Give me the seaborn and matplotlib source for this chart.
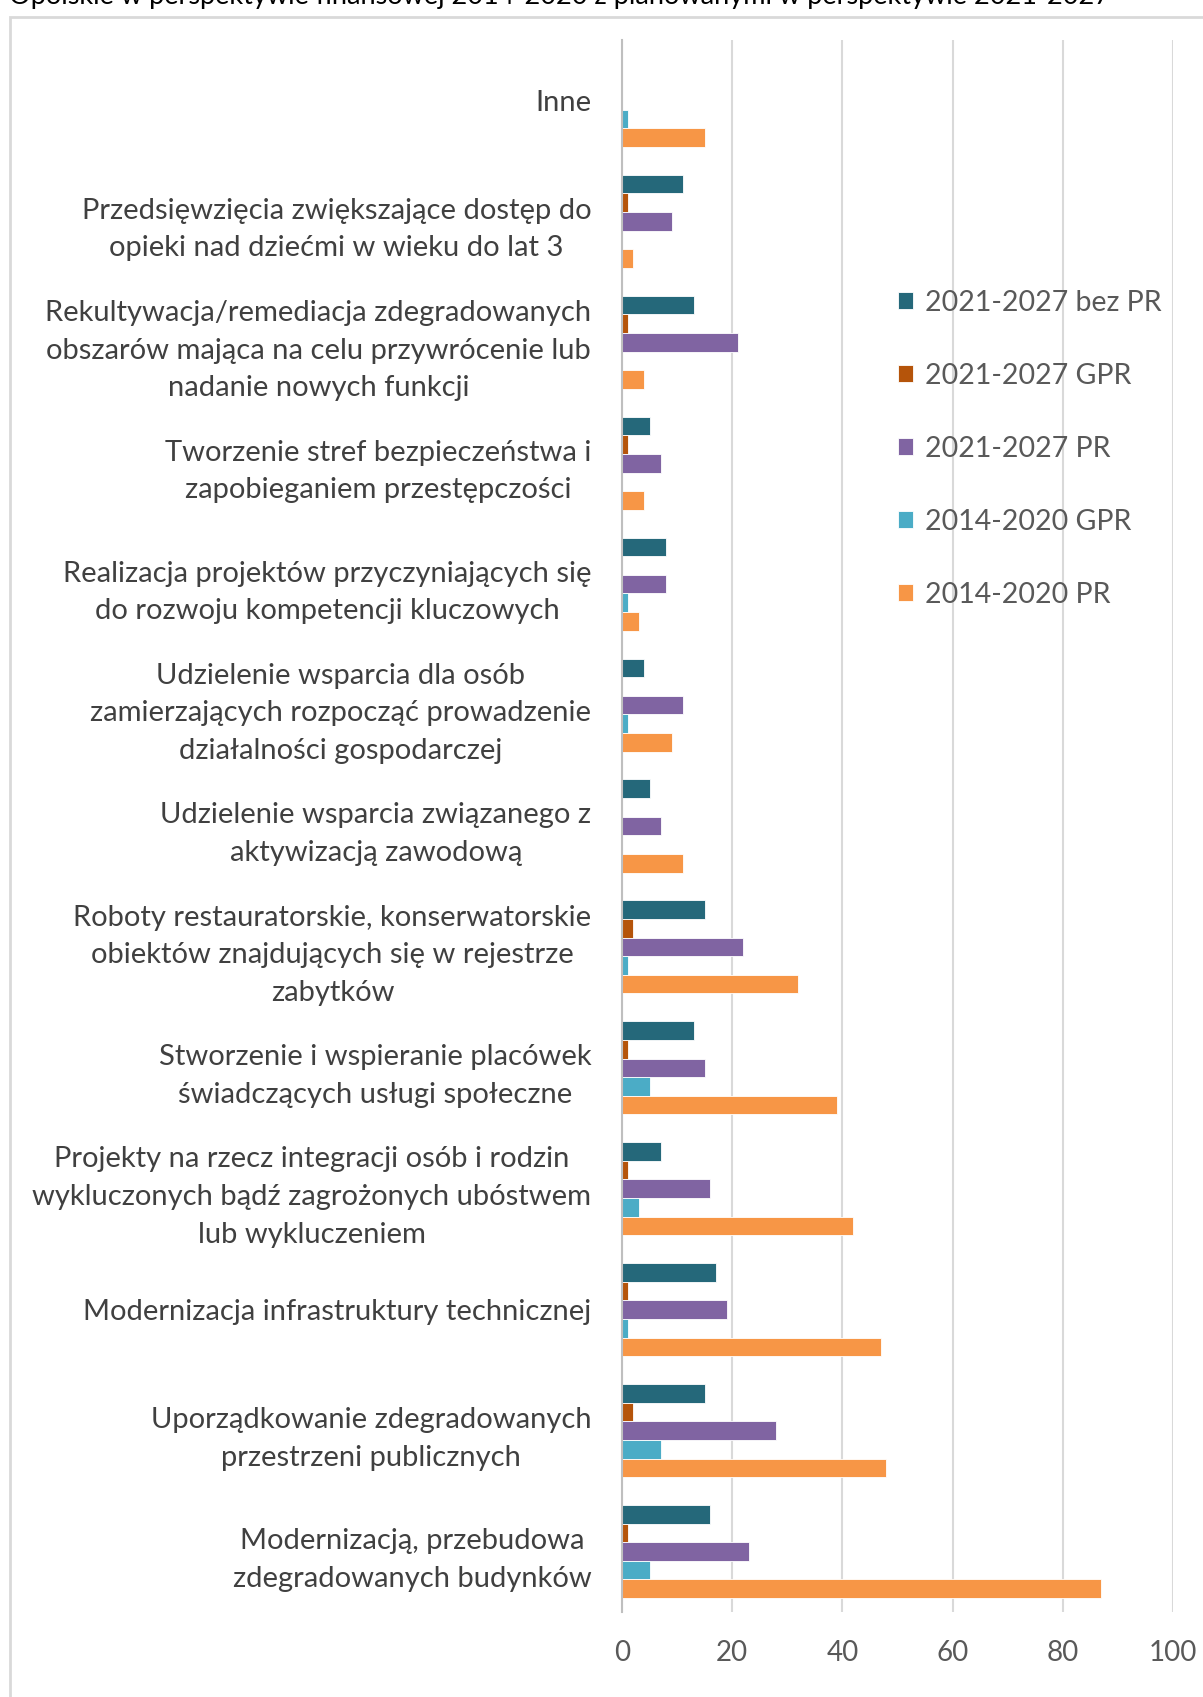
import pandas as pd
import numpy as np
import seaborn as sns
import matplotlib.pyplot as plt
from matplotlib.patches import Rectangle

# categories, top to bottom
kategorie = [
    'Inne',
    'Przedsięwzięcia zwiększające dostęp do\nopieki nad dziećmi w wieku do lat 3',
    'Rekultywacja/remediacja zdegradowanych\nobszarów mająca na celu przywrócenie lub\nnadanie nowych funkcji',
    'Tworzenie stref bezpieczeństwa i\nzapobieganiem przestępczości',
    'Realizacja projektów przyczyniających się\ndo rozwoju kompetencji kluczowych',
    'Udzielenie wsparcia dla osób\nzamierzających rozpocząć prowadzenie\ndziałalności gospodarczej',
    'Udzielenie wsparcia związanego z\naktywizacją zawodową',
    'Roboty restauratorskie, konserwatorskie\nobiektów znajdujących się w rejestrze\nzabytków',
    'Stworzenie i wspieranie placówek\nświadczących usługi społeczne',
    'Projekty na rzecz integracji osób i rodzin\nwykluczonych bądź zagrożonych ubóstwem\nlub wykluczeniem',
    'Modernizacja infrastruktury technicznej',
    'Uporządkowanie zdegradowanych\nprzestrzeni publicznych',
    'Modernizacją, przebudowa\nzdegradowanych budynków',
]

serie = ['2021-2027 bez PR', '2021-2027 GPR', '2021-2027 PR', '2014-2020 GPR', '2014-2020 PR']

bez_pr_2127 = [0, 11, 13, 5, 8, 4, 5, 15, 13, 7, 17, 15, 16]
gpr_2127 = [0, 1, 1, 1, 0, 0, 0, 2, 1, 1, 1, 2, 1]
pr_2127 = [0, 9, 21, 7, 8, 11, 7, 22, 15, 16, 19, 28, 23]
gpr_1420 = [1, 0, 0, 0, 1, 1, 0, 1, 5, 3, 1, 7, 5]
pr_1420 = [15, 2, 4, 4, 3, 9, 11, 32, 39, 42, 47, 48, 87]

kolory = ['#25687A', '#B5540A', '#8064A2', '#4BACC6', '#F79646']
x_ticks = [0, 20, 40, 60, 80, 100]

df = pd.DataFrame({
    'kategoria': kategorie * 5,
    'seria': np.repeat(serie, len(kategorie)),
    'wartosc': bez_pr_2127 + gpr_2127 + pr_2127 + gpr_1420 + pr_1420,
})

sns.set_style('white')
plt.rcParams['font.family'] = ['Lato', 'DejaVu Sans']

W, H = 1203, 1697
fig = plt.figure(figsize=(W / 100, H / 100), dpi=100)
ax = fig.add_axes([622 / W, 1 - 1612 / H, (1173 - 622) / W, (1612 - 40) / H])

sns.barplot(data=df, y='kategoria', x='wartosc', hue='seria', hue_order=serie,
            order=kategorie, palette=kolory, saturation=1, orient='h', width=0.77,
            edgecolor='white', linewidth=0.6, ax=ax)

ax.set_xlim(0, 100)
ax.set_ylim(len(kategorie) - 0.5, -0.5)
ax.set_xticks(x_ticks)
ax.set_xlabel('')
ax.set_ylabel('')
ax.grid(axis='x', color='#D9D9D9', linewidth=1.5)
ax.set_axisbelow(True)
for s in ['top', 'right', 'bottom']:
    ax.spines[s].set_visible(False)
ax.spines['left'].set_color('#BFBFBF')
ax.spines['left'].set_linewidth(1.5)

ax.set_yticks(np.arange(len(kategorie) + 1) - 0.5, minor=True)
ax.tick_params(axis='y', which='minor', length=7, width=1.5, color='#BFBFBF', direction='out')
ax.tick_params(axis='y', which='major', length=0, pad=22, labelsize=21, labelcolor='#404040')
ax.tick_params(axis='x', length=0, pad=20, labelsize=20, labelcolor='#595959')
for lab in ax.get_yticklabels():
    lab.set_multialignment('center')
    lab.set_linespacing(1.55)

leg = ax.legend(loc='upper left', bbox_to_anchor=(872 / W, 1 - 264 / H),
                bbox_transform=fig.transFigure, frameon=False, fontsize=20.5,
                labelcolor='#595959', handlelength=0.55, handleheight=0.55,
                handletextpad=0.4, labelspacing=1.65)

# outer chart border
fig.patches.append(Rectangle((10 / W, -0.05), 1.2, 1 - 16.6 / H + 0.05,
                             transform=fig.transFigure, fill=False,
                             edgecolor='#D9D9D9', linewidth=2))

fig.text(9 / W, 1 - 4 / H,
         'Opolskie w perspektywie finansowej 2014-2020 z planowanymi w perspektywie 2021-2027',
         fontsize=19.5, color='black', va='baseline')

fig.savefig('out.png', dpi=100)
